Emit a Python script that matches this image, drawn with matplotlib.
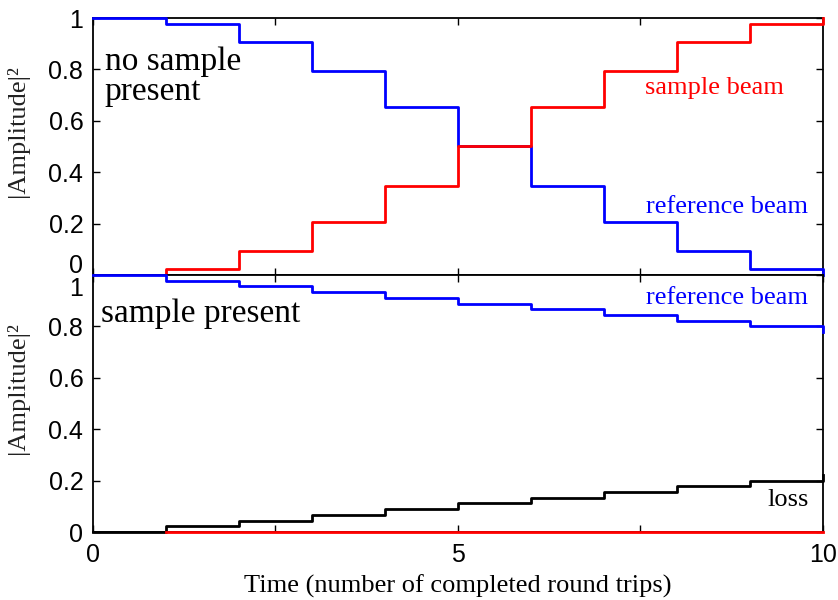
import matplotlib
matplotlib.use('Agg')
import matplotlib.pyplot as plt
import matplotlib.transforms as mtransforms
import numpy as np

# round trips 0..10, values hold on [n, n+1)
time = np.arange(11)

# no sample present
ref_nosample = [1.0, 0.976, 0.905, 0.794, 0.655, 0.5, 0.345, 0.206, 0.095, 0.024, 0.0]
smp_nosample = [0.0, 0.024, 0.095, 0.206, 0.345, 0.5, 0.655, 0.794, 0.905, 0.976, 1.0]

# sample present
ref_sample = [1.0, 0.978, 0.956, 0.933, 0.911, 0.889, 0.867, 0.844, 0.822, 0.8, 0.778]
smp_sample = [0.0] * 11
loss_sample = [0.0, 0.022, 0.044, 0.067, 0.089, 0.111, 0.133, 0.156, 0.178, 0.2, 0.222]

xticks = [0, 2.5, 5, 7.5, 10]
xticklabels = ['0', '', '5', '', '10']
yticks = [0, 0.2, 0.4, 0.6, 0.8, 1.0]
yticklabels = ['0', '0.2', '0.4', '0.6', '0.8', '1']

SERIF = 'Liberation Serif'
SANS = 'Liberation Sans'
LW = 2.0


def stair(t, v):
    # post-style step path: (t0,v0),(t1,v0),(t1,v1),...
    xs = np.repeat(t, 2)[1:]
    ys = np.repeat(np.asarray(v, float), 2)[:-1]
    return xs, ys


fig = plt.figure(figsize=(8.38, 6), dpi=100)
ax1 = fig.add_axes([0.111, 0.5417, 0.871, 0.4283])
ax2 = fig.add_axes([0.111, 0.1133, 0.871, 0.4284])

for ax in (ax1, ax2):
    ax.set_xlim(0, 10)
    ax.set_ylim(0, 1)
    ax.set_xticks(xticks)
    ax.set_yticks(yticks)
    ax.set_yticklabels(yticklabels, fontfamily=SANS, fontsize=18)
    ax.tick_params(direction='in', top=True, right=True, length=5, width=1,
                   pad=7, colors='black')
    for s in ax.spines.values():
        s.set_linewidth(1.3)
    ax.set_ylabel('|Amplitude|²', fontfamily=SERIF, fontsize=19, color='#222222')
    ax.yaxis.set_label_coords(-0.088, 0.56)

ax1.set_xticklabels([])
ax2.set_xticklabels(xticklabels, fontfamily=SANS, fontsize=18)
ax2.tick_params(axis='x', pad=8)
ax2.set_xlabel('Time (number of completed round trips)', fontfamily=SERIF, fontsize=19)
ax2.xaxis.set_label_coords(0.5, -0.165)

# nudge the overlapping labels at the panel boundary
lab0 = ax1.get_yticklabels()[0]
lab0.set_transform(lab0.get_transform() + mtransforms.ScaledTranslation(0, 11 / 100, fig.dpi_scale_trans))
lab1 = ax2.get_yticklabels()[-1]
lab1.set_transform(lab1.get_transform() + mtransforms.ScaledTranslation(0, -12 / 100, fig.dpi_scale_trans))

# top panel
x, y = stair(time, ref_nosample)
ax1.plot(x, y, color='#0000ff', lw=LW, clip_on=False, zorder=3)
x, y = stair(time, smp_nosample)
ax1.plot(x[1:], y[1:], color='#ff0000', lw=LW, clip_on=False, zorder=3)
ax1.text(0.16, 0.89, 'no sample\npresent', fontfamily=SERIF, fontsize=24,
         va='top', ha='left', linespacing=1.0)
ax1.text(8.52, 0.727, 'sample beam', color='#ff0000', fontfamily=SERIF,
         fontsize=19, ha='center', va='center')
ax1.text(8.68, 0.265, 'reference beam', color='#0000ff', fontfamily=SERIF,
         fontsize=19, ha='center', va='center')

# bottom panel
x, y = stair(time, ref_sample)
ax2.plot(x, y, color='#0000ff', lw=LW, clip_on=False, zorder=3)
x, y = stair(time, loss_sample)
ax2.plot(x, y, color='black', lw=LW, clip_on=False, zorder=3)
x, y = stair(time, smp_sample)
ax2.plot(x[1:], y[1:], color='#ff0000', lw=LW, clip_on=False, zorder=4)
ax2.text(0.11, 0.85, 'sample present', fontfamily=SERIF, fontsize=24,
         va='center', ha='left')
ax2.text(8.68, 0.91, 'reference beam', color='#0000ff', fontfamily=SERIF,
         fontsize=19, ha='center', va='center')
ax2.text(9.52, 0.125, 'loss', color='black', fontfamily=SERIF,
         fontsize=19, ha='center', va='center')

fig.savefig('out.png', dpi=100)
